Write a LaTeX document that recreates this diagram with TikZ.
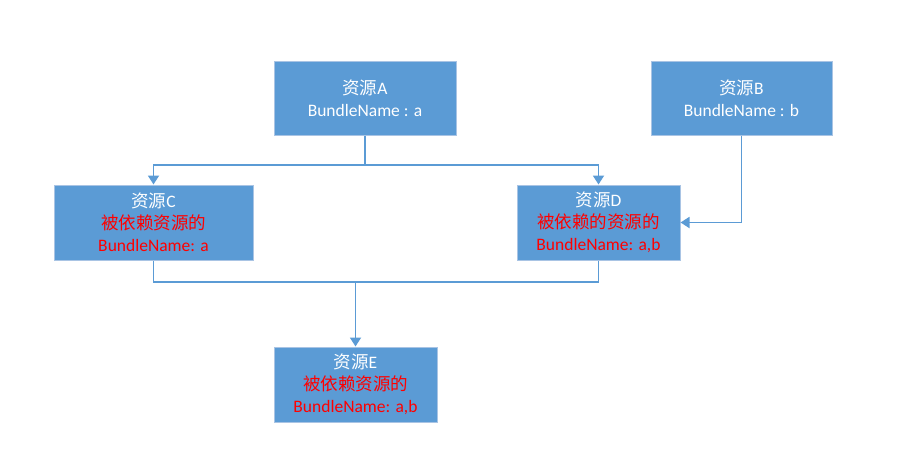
\documentclass[tikz,border=0pt]{standalone}
\usepackage{fontspec}
\setmainfont{Carlito}
\newfontfamily\cjk{Noto Sans CJK SC}
\usetikzlibrary{arrows.meta}
\definecolor{boxfill}{HTML}{5B9BD5}
\definecolor{boxedge}{HTML}{A9C4E4}
\definecolor{linec}{HTML}{5B9BD5}
\begin{document}
\begin{tikzpicture}[x=1pt,y=-1pt,
  res/.style={draw=boxedge,line width=1pt,fill=boxfill,inner sep=0pt,align=center,font=\fontsize{17.5}{22}\selectfont,text=white},
  conn/.style={draw=linec,line width=1.8pt},
  arr/.style={conn,-{Triangle[width=11pt,length=9pt]}}]
\useasboundingbox (0,0) rectangle (906,450);
\node[res,minimum width=182pt,minimum height=74pt] (A) at (365,98) {{\cjk 资源}A\\BundleName : a};
\node[res,minimum width=181pt,minimum height=74pt] (B) at (741.5,98) {{\cjk 资源}B\\BundleName : b};
\node[res,minimum width=199pt,minimum height=75pt] (C) at (153.5,222.5) {{\cjk 资源}C\\{\color{red}\cjk 被依赖资源的}\\{\color{red}BundleName: a}};
\node[res,minimum width=163pt,minimum height=75pt] (D) at (598.5,222.5) {{\cjk 资源}D\\{\color{red}\cjk 被依赖的资源的}\\{\color{red}BundleName: a,b}};
\node[res,minimum width=163pt,minimum height=75pt] (E) at (355.5,384.5) {{\cjk 资源}E\\{\color{red}\cjk 被依赖资源的}\\{\color{red}BundleName: a,b}};
\coordinate (j1) at (365,165);
\coordinate (j2) at (355.5,282);
\draw[conn] (A.south) -- (j1);
\draw[arr] (j1) -| (C.north);
\draw[arr] (j1) -| (D.north);
\draw[arr] (B.south) |- (D.east);
\draw[conn] (C.south) |- (j2);
\draw[conn] (D.south) |- (j2);
\draw[arr] (j2) -- (E.north);
\end{tikzpicture}
\end{document}
